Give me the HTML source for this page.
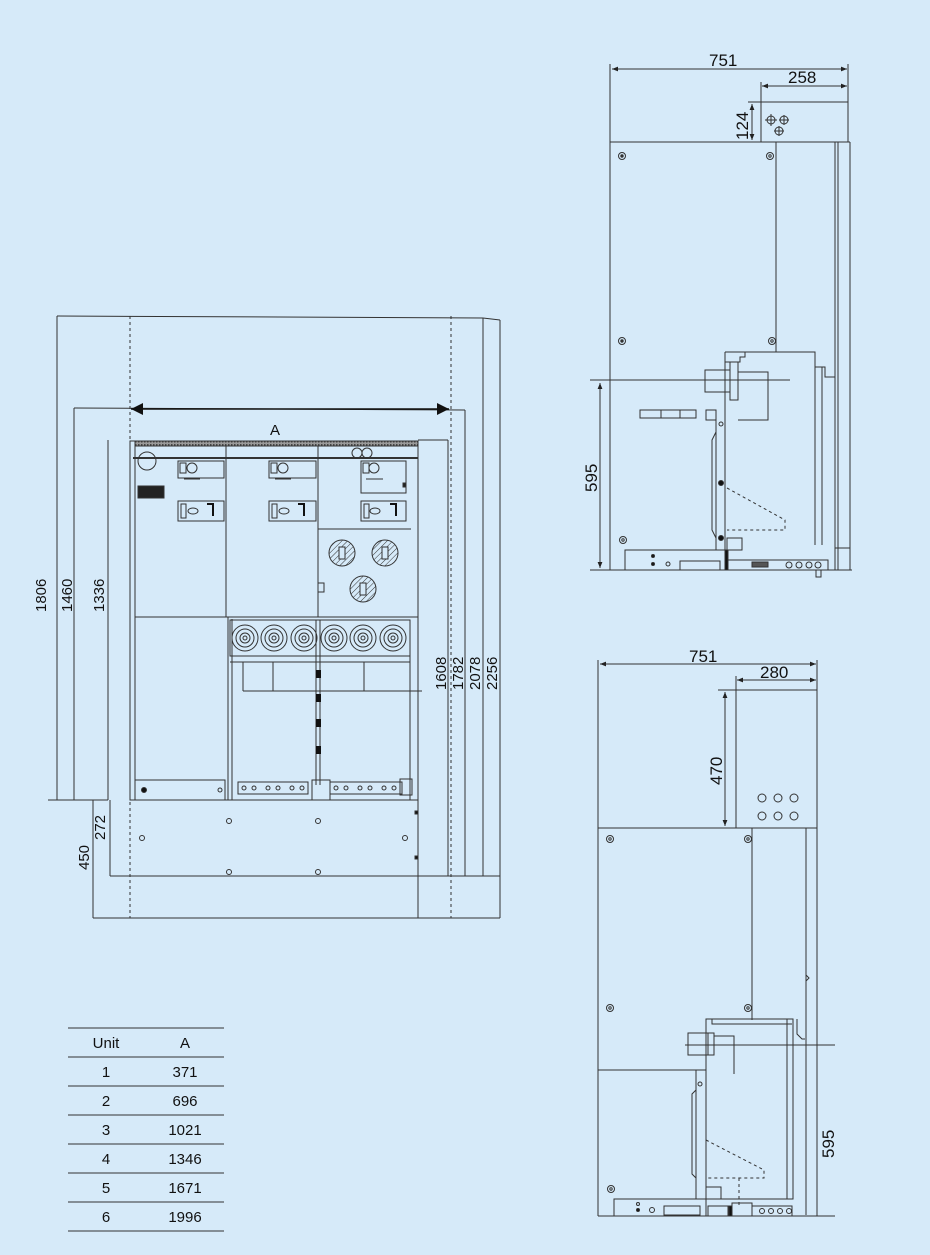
<!DOCTYPE html>
<html><head><meta charset="utf-8"><style>
html,body{margin:0;padding:0;background:#d6eaf9;}
svg{display:block;font-family:"Liberation Sans",sans-serif;}
</style></head><body>
<svg width="930" height="1255" viewBox="0 0 930 1255" xmlns="http://www.w3.org/2000/svg">
<defs>
<marker id="ar" viewBox="0 0 10 10" refX="10" refY="5" markerWidth="6" markerHeight="6" orient="auto-start-reverse"><path d="M0,1 L10,5 L0,9 z" fill="#222"/></marker>
<marker id="arB" viewBox="0 0 10 10" refX="10" refY="5" markerWidth="10" markerHeight="8" orient="auto-start-reverse"><path d="M0,0 L10,5 L0,10 z" fill="#111"/></marker>
<pattern id="hatch" width="4" height="4" patternUnits="userSpaceOnUse" patternTransform="rotate(45)"><line x1="0" y1="0" x2="0" y2="4" stroke="#333" stroke-width="1"/></pattern>
<pattern id="dots" width="3" height="3" patternUnits="userSpaceOnUse"><rect width="3" height="3" fill="#999"/><rect width="1.5" height="1.5" fill="#444"/></pattern>
</defs>
<rect width="930" height="1255" fill="#d6eaf9"/>
<g stroke="#333" stroke-width="1" fill="none">
<!-- ===== FRONT VIEW dims ===== -->
<line x1="57" y1="316" x2="483" y2="318"/>
<line x1="57" y1="316" x2="57" y2="800"/>
<line x1="74" y1="408" x2="465" y2="410"/>
<line x1="74" y1="408" x2="74" y2="800"/>
<line x1="108" y1="440" x2="108" y2="800"/>
<line x1="48" y1="800" x2="108" y2="800"/>
<line x1="93" y1="800" x2="93" y2="918"/>
<line x1="110" y1="800" x2="110" y2="876"/>
<line x1="110" y1="876" x2="500" y2="876"/>
<line x1="93" y1="918" x2="500" y2="918"/>
<line x1="483" y1="318" x2="483" y2="876"/>
<line x1="500" y1="320" x2="500" y2="918"/>
<line x1="483" y1="318" x2="500" y2="320"/>
<line x1="465" y1="410" x2="465" y2="876"/>
<line x1="418" y1="440" x2="448" y2="440"/>
<line x1="448" y1="440" x2="448" y2="876"/>
<line x1="418" y1="800" x2="418" y2="918"/>
<line x1="130" y1="316" x2="130" y2="918" stroke-dasharray="3,3"/>
<line x1="451" y1="316" x2="451" y2="918" stroke-dasharray="3,3"/>
<line x1="131" y1="409" x2="449" y2="409" stroke="#111" stroke-width="1.5" marker-start="url(#arB)" marker-end="url(#arB)"/>
<!-- cabinet -->
<rect x="130" y="441" width="288" height="359"/>
<line x1="135" y1="446" x2="135" y2="800"/>
<rect x="135" y="441" width="283" height="5" fill="url(#dots)"/>
<line x1="133" y1="458" x2="418" y2="458" stroke-width="2"/>
<circle cx="147" cy="461" r="9"/>
<circle cx="357" cy="453" r="5"/><circle cx="367" cy="453" r="5"/>
<line x1="226" y1="446" x2="226" y2="617"/>
<line x1="318" y1="446" x2="318" y2="617"/>
<line x1="135" y1="617" x2="418" y2="617"/>
<line x1="318" y1="529" x2="411" y2="529"/>
<rect x="138" y="486" width="26" height="12" fill="#222"/>
<g>
<rect x="178" y="461" width="46" height="17"/><rect x="180" y="463" width="6" height="10"/><circle cx="192" cy="468" r="5"/><line x1="184" y1="479" x2="200" y2="479"/>
<rect x="269" y="461" width="47" height="17"/><rect x="271" y="463" width="6" height="10"/><circle cx="283" cy="468" r="5"/><line x1="275" y1="479" x2="291" y2="479"/>
<rect x="361" y="461" width="45" height="32"/><rect x="363" y="463" width="6" height="10"/><circle cx="374" cy="468" r="5"/><line x1="366" y1="479" x2="383" y2="479"/><rect x="403" y="483" width="3" height="4" fill="#222"/>
<rect x="178" y="501" width="46" height="20"/><rect x="181" y="504" width="5" height="14"/><ellipse cx="193" cy="511" rx="5" ry="3"/>
<rect x="269" y="501" width="47" height="20"/><rect x="272" y="504" width="5" height="14"/><ellipse cx="284" cy="511" rx="5" ry="3"/>
<rect x="361" y="501" width="45" height="20"/><rect x="364" y="504" width="5" height="14"/><ellipse cx="375" cy="511" rx="5" ry="3"/>
</g>
<path d="M207,504 h6 v12" stroke="#111" stroke-width="2"/><path d="M298,504 h6 v12" stroke="#111" stroke-width="2"/><path d="M390,504 h6 v12" stroke="#111" stroke-width="2"/>
<g fill="url(#hatch)"><circle cx="342" cy="553" r="13"/><circle cx="385" cy="553" r="13"/><circle cx="363" cy="589" r="13"/></g>
<rect x="339" y="547" width="6" height="12" fill="#d6eaf9"/><rect x="382" y="547" width="6" height="12" fill="#d6eaf9"/><rect x="360" y="583" width="6" height="12" fill="#d6eaf9"/>
<rect x="318" y="583" width="6" height="9"/>
<line x1="228" y1="617" x2="228" y2="800"/><line x1="232" y1="619" x2="232" y2="800"/>
<rect x="230" y="620" width="180" height="36"/>
<line x1="230" y1="656" x2="410" y2="656"/><line x1="230" y1="662" x2="410" y2="662"/>
<g>
<circle cx="245" cy="638" r="13"/><circle cx="245" cy="638" r="9"/><circle cx="245" cy="638" r="5"/><circle cx="245" cy="638" r="2"/>
<circle cx="274" cy="638" r="13"/><circle cx="274" cy="638" r="9"/><circle cx="274" cy="638" r="5"/><circle cx="274" cy="638" r="2"/>
<circle cx="304" cy="638" r="13"/><circle cx="304" cy="638" r="9"/><circle cx="304" cy="638" r="5"/><circle cx="304" cy="638" r="2"/>
<circle cx="334" cy="638" r="13"/><circle cx="334" cy="638" r="9"/><circle cx="334" cy="638" r="5"/><circle cx="334" cy="638" r="2"/>
<circle cx="363" cy="638" r="13"/><circle cx="363" cy="638" r="9"/><circle cx="363" cy="638" r="5"/><circle cx="363" cy="638" r="2"/>
<circle cx="393" cy="638" r="13"/><circle cx="393" cy="638" r="9"/><circle cx="393" cy="638" r="5"/><circle cx="393" cy="638" r="2"/>
</g>
<line x1="243" y1="662" x2="243" y2="691"/><line x1="273" y1="662" x2="273" y2="691"/><line x1="364" y1="662" x2="364" y2="691"/>
<line x1="243" y1="691" x2="422" y2="691"/>
<line x1="410" y1="656" x2="410" y2="800"/>
<line x1="316" y1="620" x2="316" y2="785"/><line x1="320" y1="620" x2="320" y2="785"/>
<g fill="#111" stroke="none"><rect x="316" y="670" width="5" height="8"/><rect x="316" y="694" width="5" height="8"/><rect x="316" y="719" width="5" height="8"/><rect x="316" y="746" width="5" height="8"/></g>
<rect x="135" y="780" width="90" height="20"/><circle cx="144" cy="790" r="2.5" fill="#111"/><circle cx="220" cy="790" r="2"/>
<rect x="238" y="782" width="70" height="12"/><rect x="330" y="782" width="72" height="12"/>
<rect x="312" y="780" width="18" height="20"/><rect x="400" y="779" width="12" height="16"/>
<g><circle cx="244" cy="788" r="2"/><circle cx="254" cy="788" r="2"/><circle cx="268" cy="788" r="2"/><circle cx="278" cy="788" r="2"/><circle cx="292" cy="788" r="2"/><circle cx="302" cy="788" r="2"/><circle cx="336" cy="788" r="2"/><circle cx="346" cy="788" r="2"/><circle cx="360" cy="788" r="2"/><circle cx="370" cy="788" r="2"/><circle cx="384" cy="788" r="2"/><circle cx="394" cy="788" r="2"/></g>
<g><circle cx="229" cy="821" r="2.5"/><circle cx="318" cy="821" r="2.5"/><circle cx="142" cy="838" r="2.5"/><circle cx="405" cy="838" r="2.5"/><circle cx="229" cy="872" r="2.5"/><circle cx="318" cy="872" r="2.5"/></g>
<rect x="415" y="811" width="3" height="3" fill="#111"/><rect x="415" y="856" width="3" height="3" fill="#111"/>
</g>
<g font-size="15" fill="#111">
<text x="270" y="435">A</text>
<text transform="translate(46,612) rotate(-90)">1806</text>
<text transform="translate(72,612) rotate(-90)">1460</text>
<text transform="translate(104,612) rotate(-90)">1336</text>
<text transform="translate(105,840) rotate(-90)">272</text>
<text transform="translate(89,870) rotate(-90)">450</text>
<text transform="translate(446,690) rotate(-90)">1608</text>
<text transform="translate(463,690) rotate(-90)">1782</text>
<text transform="translate(480,690) rotate(-90)">2078</text>
<text transform="translate(497,690) rotate(-90)">2256</text>
</g>

<!-- ===== SIDE VIEW 1 ===== -->
<g stroke="#333" stroke-width="1" fill="none">
<line x1="610" y1="64" x2="610" y2="570"/>
<line x1="848" y1="64" x2="848" y2="102"/>
<line x1="612" y1="69" x2="847" y2="69" marker-start="url(#ar)" marker-end="url(#ar)"/>
<line x1="761" y1="82" x2="761" y2="102"/>
<line x1="762" y1="86" x2="847" y2="86" marker-start="url(#ar)" marker-end="url(#ar)"/>
<rect x="761" y="102" width="87" height="40"/>
<line x1="748" y1="102" x2="761" y2="102"/>
<line x1="752" y1="104" x2="752" y2="140" marker-start="url(#ar)" marker-end="url(#ar)"/>
<circle cx="771" cy="120" r="4"/><line x1="765" y1="120" x2="777" y2="120"/><line x1="771" y1="114" x2="771" y2="126"/>
<circle cx="784" cy="120" r="4"/><line x1="779" y1="120" x2="789" y2="120"/><line x1="784" y1="115" x2="784" y2="125"/>
<circle cx="779" cy="131" r="4"/><line x1="774" y1="131" x2="784" y2="131"/><line x1="779" y1="126" x2="779" y2="136"/>
<line x1="610" y1="142" x2="850" y2="142"/>
<line x1="776" y1="142" x2="776" y2="352"/>
<line x1="835" y1="142" x2="835" y2="570"/><line x1="838" y1="142" x2="838" y2="570"/><line x1="850" y1="142" x2="850" y2="570"/>
<circle cx="622" cy="156" r="3.5"/><circle cx="622" cy="156" r="1.2" fill="#333"/>
<circle cx="770" cy="156" r="3.5"/><circle cx="770" cy="156" r="1.2"/>
<circle cx="622" cy="341" r="3.5"/><circle cx="622" cy="341" r="1.2" fill="#333"/>
<circle cx="772" cy="341" r="3.5"/><circle cx="772" cy="341" r="1.2"/>
<circle cx="623" cy="540" r="3.5"/><circle cx="623" cy="540" r="1.2"/>
<path d="M725,352 h90 v15 h10 v10 h10 M725,352 v200 M745,352 v5 h-5 v5 h-15"/>
<line x1="815" y1="367" x2="815" y2="545"/><line x1="822" y1="367" x2="822" y2="545"/>
<path d="M705,370 h25 v22 h-25 z M730,362 h8 v38 h-8 z M738,372 h30 v48 h-30"/>
<line x1="590" y1="380" x2="790" y2="380"/>
<line x1="600" y1="383" x2="600" y2="568" marker-start="url(#ar)" marker-end="url(#ar)"/>
<line x1="590" y1="570" x2="852" y2="570"/>
<rect x="640" y="410" width="56" height="8"/><line x1="661" y1="410" x2="661" y2="418"/><line x1="680" y1="410" x2="680" y2="418"/>
<rect x="706" y="410" width="10" height="10"/>
<line x1="716" y1="420" x2="716" y2="550"/>
<path d="M716,432 l-4,8 v90 l4,8"/>
<circle cx="721" cy="424" r="2"/><circle cx="721" cy="483" r="2.5" fill="#111"/><circle cx="721" cy="538" r="2.5" fill="#111"/>
<path d="M727,488 l58,32 v10 h-58" stroke-dasharray="3,3"/>
<rect x="727" y="538" width="15" height="12"/>
<rect x="625" y="550" width="100" height="20"/>
<circle cx="653" cy="556" r="1.5" fill="#111"/><circle cx="653" cy="564" r="1.5" fill="#111"/><circle cx="668" cy="564" r="2"/>
<rect x="680" y="561" width="40" height="9"/>
<rect x="725" y="550" width="3" height="20" fill="#111"/>
<rect x="728" y="560" width="100" height="10"/>
<rect x="752" y="562" width="16" height="5" fill="#555"/>
<circle cx="789" cy="565" r="3"/><circle cx="799" cy="565" r="3"/><circle cx="809" cy="565" r="3"/><circle cx="818" cy="565" r="3"/>
<rect x="816" y="570" width="5" height="7"/>
<rect x="835" y="548" width="15" height="22"/>
</g>
<g font-size="17" fill="#111">
<text x="709" y="66">751</text>
<text x="788" y="83">258</text>
<text transform="translate(748,140) rotate(-90)">124</text>
<text transform="translate(597,492) rotate(-90)">595</text>
</g>

<!-- ===== SIDE VIEW 2 ===== -->
<g stroke="#333" stroke-width="1" fill="none">
<line x1="598" y1="660" x2="598" y2="1216"/>
<line x1="817" y1="660" x2="817" y2="690"/>
<line x1="600" y1="664" x2="816" y2="664" marker-start="url(#ar)" marker-end="url(#ar)"/>
<line x1="736" y1="676" x2="736" y2="690"/>
<line x1="737" y1="680" x2="816" y2="680" marker-start="url(#ar)" marker-end="url(#ar)"/>
<rect x="736" y="690" width="81" height="138"/>
<line x1="718" y1="690" x2="736" y2="690"/>
<line x1="725" y1="692" x2="725" y2="826" marker-start="url(#ar)" marker-end="url(#ar)"/>
<g><circle cx="762" cy="798" r="4"/><circle cx="778" cy="798" r="4"/><circle cx="794" cy="798" r="4"/><circle cx="762" cy="816" r="4"/><circle cx="778" cy="816" r="4"/><circle cx="794" cy="816" r="4"/></g>
<line x1="598" y1="828" x2="817" y2="828"/>
<line x1="752" y1="828" x2="752" y2="1020"/>
<line x1="806" y1="828" x2="806" y2="1215"/><line x1="817" y1="828" x2="817" y2="1216"/>
<path d="M806,975 l3,3 l-3,3"/>
<circle cx="610" cy="839" r="3.5"/><circle cx="610" cy="839" r="1.2"/>
<circle cx="748" cy="839" r="3.5"/><circle cx="748" cy="839" r="1.2"/>
<circle cx="610" cy="1008" r="3.5"/><circle cx="610" cy="1008" r="1.2"/>
<circle cx="748" cy="1008" r="3.5"/><circle cx="748" cy="1008" r="1.2"/>
<circle cx="611" cy="1189" r="3.5"/><circle cx="611" cy="1189" r="1.2"/>
<rect x="706" y="1019" width="87" height="180"/>
<line x1="787" y1="1019" x2="787" y2="1199"/>
<path d="M712,1019 v5 h80 M797,1019 v15 l5,5 h3"/>
<path d="M688,1033 h20 v22 h-20 z M708,1033 h6 v22 h-6 z M714,1036 h20 v38"/>
<line x1="685" y1="1045" x2="835" y2="1045"/>
<line x1="598" y1="1070" x2="706" y2="1070"/>
<line x1="696" y1="1070" x2="696" y2="1199"/>
<path d="M696,1090 l-4,4 v80 l4,4"/>
<circle cx="700" cy="1084" r="2"/>
<path d="M706,1140 l58,30 v8 h-58 M739,1178 v30" stroke-dasharray="3,3"/>
<rect x="706" y="1187" width="15" height="12"/>
<rect x="614" y="1199" width="92" height="17"/>
<circle cx="638" cy="1204" r="1.5"/><circle cx="638" cy="1210" r="1.5" fill="#111"/><circle cx="652" cy="1210" r="2.5"/>
<rect x="664" y="1206" width="36" height="9"/>
<rect x="708" y="1206" width="20" height="10"/><rect x="729" y="1206" width="3" height="10" fill="#111"/><rect x="732" y="1203" width="20" height="13"/>
<rect x="752" y="1206" width="40" height="10"/>
<circle cx="762" cy="1211" r="2.5"/><circle cx="771" cy="1211" r="2.5"/><circle cx="780" cy="1211" r="2.5"/><circle cx="789" cy="1211" r="2.5"/>
<line x1="598" y1="1216" x2="835" y2="1216"/>
</g>
<g font-size="17" fill="#111">
<text x="689" y="662">751</text>
<text x="760" y="678">280</text>
<text transform="translate(722,785) rotate(-90)">470</text>
<text transform="translate(834,1158) rotate(-90)">595</text>
</g>

<!-- ===== TABLE ===== -->
<g stroke="#333" stroke-width="1">
<line x1="68" y1="1028" x2="224" y2="1028"/>
<line x1="68" y1="1057" x2="224" y2="1057"/>
<line x1="68" y1="1086" x2="224" y2="1086"/>
<line x1="68" y1="1115" x2="224" y2="1115"/>
<line x1="68" y1="1144" x2="224" y2="1144"/>
<line x1="68" y1="1173" x2="224" y2="1173"/>
<line x1="68" y1="1202" x2="224" y2="1202"/>
<line x1="68" y1="1231" x2="224" y2="1231"/>
</g>
<g font-size="15" fill="#111" text-anchor="middle">
<text x="106" y="1048">Unit</text><text x="185" y="1048">A</text>
<text x="106" y="1077">1</text><text x="185" y="1077">371</text>
<text x="106" y="1106">2</text><text x="185" y="1106">696</text>
<text x="106" y="1135">3</text><text x="185" y="1135">1021</text>
<text x="106" y="1164">4</text><text x="185" y="1164">1346</text>
<text x="106" y="1193">5</text><text x="185" y="1193">1671</text>
<text x="106" y="1222">6</text><text x="185" y="1222">1996</text>
</g>
</svg>
</body></html>
